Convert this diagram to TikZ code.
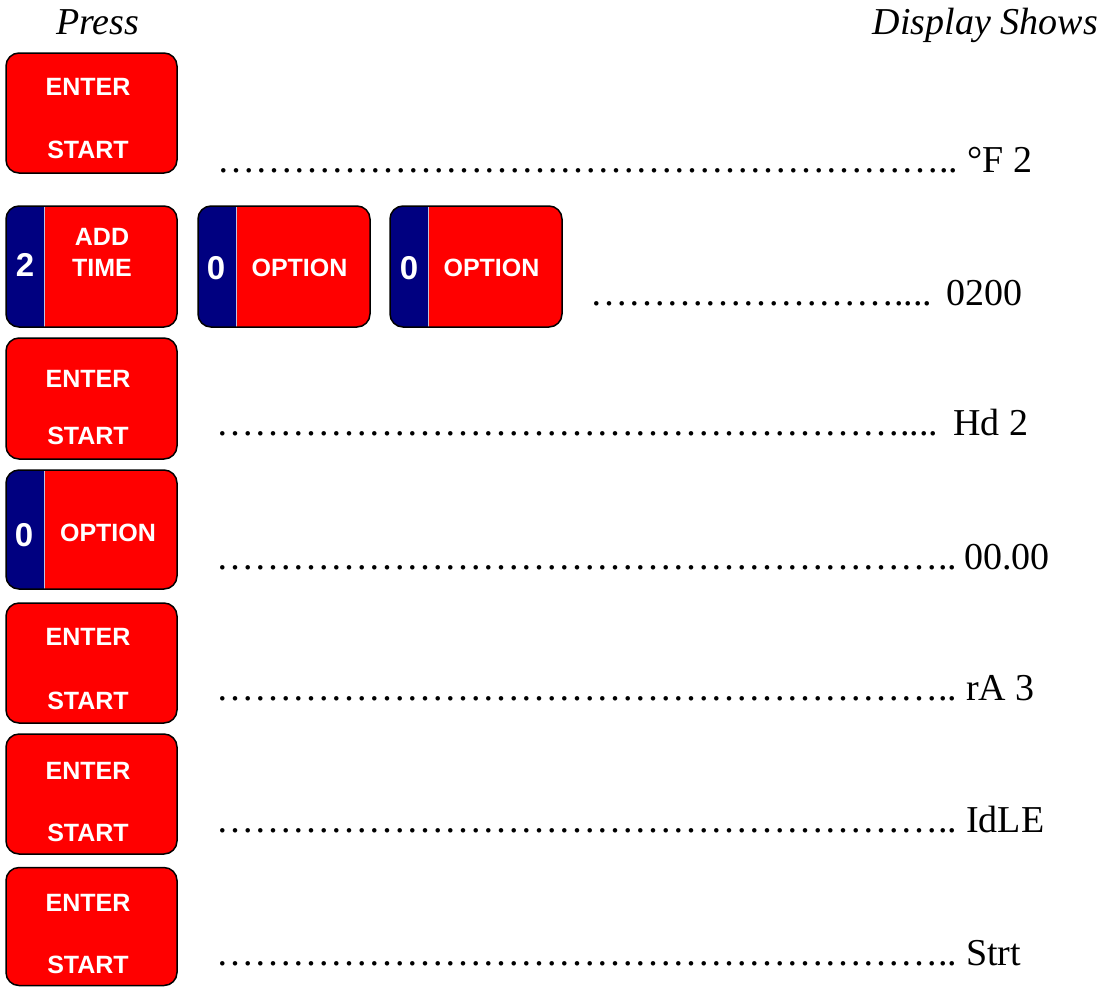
\documentclass[tikz,border=0pt]{standalone}
\usepackage{fontspec}
\setmainfont{Liberation Serif}
\newfontfamily\keyfont{Liberation Sans}

\definecolor{keyred}{RGB}{255,0,0}
\definecolor{keyblue}{RGB}{0,0,128}

% repeat the ellipsis character #1 times
\newcommand\ellipsisrun[1]{\ifnum#1>0 \char"2026\relax\expandafter\ellipsisrun\expandafter{\the\numexpr#1-1\relax}\fi}

\tikzset{
  keybox/.style={draw=black, line width=1.5pt, fill=keyred, rounded corners=13pt,
    minimum width=171pt, minimum height=120pt, inner sep=0pt},
  numkey/.style={keybox, path picture={
      \fill[keyblue, sharp corners] (path picture bounding box.north west) rectangle
        ([xshift=38pt]path picture bounding box.south west);
      \draw[white!75!keyblue, line width=1pt, sharp corners]
        ([xshift=38.5pt]path picture bounding box.north west) --
        ([xshift=38.5pt]path picture bounding box.south west);}},
  keylabel/.style={text=white, font=\keyfont\bfseries\fontsize{25}{26}\selectfont,
    inner sep=0pt, anchor=base},
  keydigit/.style={text=white, font=\keyfont\bfseries\fontsize{33}{34}\selectfont,
    inner sep=0pt, anchor=base},
  shown/.style={font=\fontsize{38}{40}\selectfont, inner sep=0pt, anchor=base west},
  heading/.style={font=\itshape\fontsize{38}{40}\selectfont, inner sep=0pt},
}

\begin{document}
\begin{tikzpicture}[x=1pt, y=-1pt]
\useasboundingbox (0,0) rectangle (1103,986);

% column headings
\node[heading, anchor=base west] (hpress) at (56,34) {Press};
\node[heading, anchor=base east] (hshow) at (1098,34) {Display Shows};

% ---- keys ----
\node[keybox] (k1) at (91.5,113) {};
\node[keylabel] (k1a) at (88,95) {ENTER};
\node[keylabel] (k1b) at (88,158) {START};

\node[numkey, minimum height=121pt] (k2) at (91.5,266.5) {};
\node[keydigit] (k2n) at (25,276.5) {2};
\node[keylabel] (k2a) at (102,245) {ADD};
\node[keylabel] (k2b) at (102,276.5) {TIME};

\node[numkey, minimum height=121pt, minimum width=172pt] (k2c) at (284,266.5) {};
\node[keydigit] (k2cn) at (216,279.5) {0};
\node[keylabel] (k2ct) at (299.5,276) {OPTION};

\node[numkey, minimum height=121pt, minimum width=172pt] (k2d) at (476,266.5) {};
\node[keydigit] (k2dn) at (409,279.5) {0};
\node[keylabel] (k2dt) at (491.5,276) {OPTION};

\node[keybox, minimum height=121pt] (k3) at (91.5,398.5) {};
\node[keylabel] (k3a) at (88,387.5) {ENTER};
\node[keylabel] (k3b) at (88,444) {START};

\node[numkey, minimum height=119pt] (k4) at (91.5,529.5) {};
\node[keydigit] (k4n) at (24,546) {0};
\node[keylabel] (k4t) at (108,541) {OPTION};

\node[keybox] (k5) at (91.5,663) {};
\node[keylabel] (k5a) at (88,645.5) {ENTER};
\node[keylabel] (k5b) at (88,709) {START};

\node[keybox] (k6) at (91.5,794) {};
\node[keylabel] (k6a) at (88,779) {ENTER};
\node[keylabel] (k6b) at (88,841.5) {START};

\node[keybox, minimum height=118pt] (k7) at (91.5,926.5) {};
\node[keylabel] (k7a) at (88,911.5) {ENTER};
\node[keylabel] (k7b) at (88,973.5) {START};

% ---- display readings ----
\node[shown] (d1) at (217,172) {\ellipsisrun{19}..};
\node[shown] (v1) at (967,172) {°F 2};

\node[shown] (d2) at (590,305) {\ellipsisrun{8}....};
\node[shown] (v2) at (946,305) {0200};

\node[shown] (d3) at (216,435) {\ellipsisrun{18}....};
\node[shown] (v3) at (953,435) {Hd 2};

\node[shown] (d4) at (216,569) {\ellipsisrun{19}..};
\node[shown] (v4) at (964,569) {00.00};

\node[shown] (d5) at (216,700) {\ellipsisrun{19}..};
\node[shown] (v5) at (966,700) {rA 3};

\node[shown] (d6) at (216,832) {\ellipsisrun{19}..};
\node[shown] (v6) at (966,832) {IdLE};

\node[shown] (d7) at (216,965) {\ellipsisrun{19}..};
\node[shown] (v7) at (966,965) {Strt};
\end{tikzpicture}
\end{document}
